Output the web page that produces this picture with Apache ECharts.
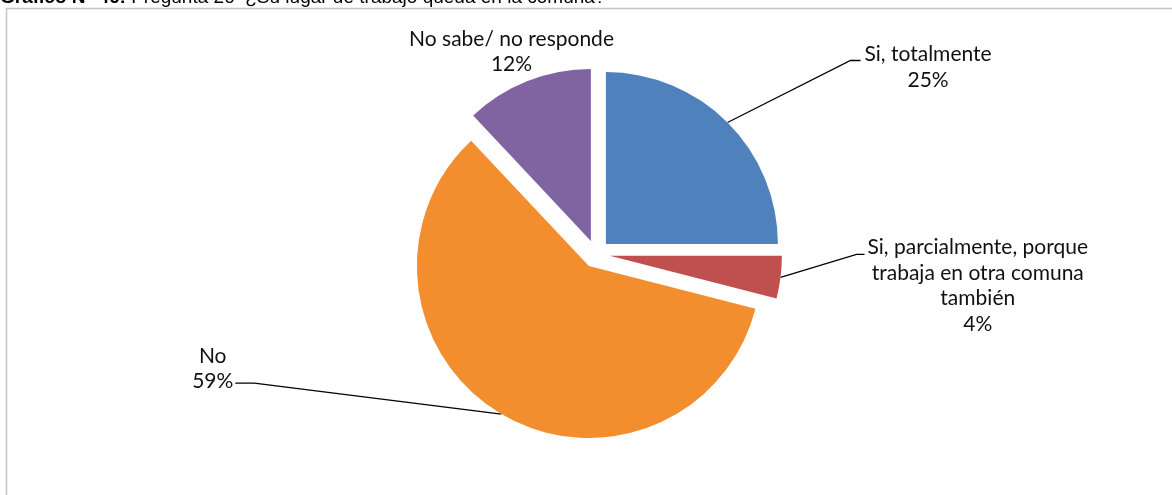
<!DOCTYPE html>
<html>
<head>
<meta charset="utf-8">
<script src="https://cdn.jsdelivr.net/npm/echarts@6/dist/echarts.min.js"></script>
<style>
html,body{margin:0;padding:0;background:#fff;}
#chart{width:1172px;height:495px;}
</style>
</head>
<body>
<div id="chart"></div>
<script>
// ---- data ----
var categories = [
  'Si, totalmente',
  'Si, parcialmente, porque\ntrabaja en otra comuna\ntambién',
  'No',
  'No sabe/ no responde'
];
var values = [25, 4, 59, 12];
var colors = ['#4F81BD', '#C0504D', '#F28E2E', '#8064A2'];
var titleBold = 'Gráfico N° 46:';
var titleRest = ' Pregunta 26  ¿Su lugar de trabajo queda en la comuna?';

var chart = echarts.init(document.getElementById('chart'), null, {renderer: 'canvas'});

var seriesData = categories.map(function (c, i) {
  var item = { name: c, value: values[i], selected: true, itemStyle: { color: colors[i] } };
  if (i === 3) item.labelLine = { show: false };
  return item;
});

function labelText(params) {
  var lines = params.name.split('\n');
  lines.push(Math.round(params.percent) + '%');
  return lines.map(function (s) { return '{c|' + s + '}'; }).join('\n');
}

function layoutLabel(params) {
  var i = params.dataIndex;
  var p0 = params.labelLinePoints ? params.labelLinePoints[0] : [0, 0];
  var r = params.labelRect;
  var w = r.width, h = r.height;
  var elbow, end, left, top, pts = null;
  if (i === 0) {
    elbow = [p0[0] + 123, p0[1] - 62];
    end = [elbow[0] + 10, elbow[1]];
    left = end[0] + 4; top = end[1] - 18.5;
    pts = [p0, elbow, end];
  } else if (i === 1) {
    elbow = [p0[0] + 76, p0[1] - 23];
    end = [elbow[0] + 8, elbow[1]];
    left = end[0] + 3; top = end[1] - 19.5;
    pts = [p0, elbow, end];
  } else if (i === 2) {
    elbow = [p0[0] - 247, p0[1] - 31];
    end = [elbow[0] - 19, elbow[1]];
    left = end[0] - 2 - w; top = end[1] + 11 - h;
    pts = [p0, elbow, end];
  } else {
    left = p0[0] - 16 - w / 2; top = p0[1] - 4 - h;
  }
  var res = { dx: left - r.x, dy: top - r.y };
  if (pts) res.labelLinePoints = pts;
  return res;
}

var labelFont = { fontFamily: 'Lato', fontSize: 21, lineHeight: 25.5, color: '#111', align: 'center' };

var option = {
  animation: false,
  graphic: [
    { type: 'rect', silent: true, shape: { x: 6.5, y: 8.5, width: 1300, height: 600 },
      style: { fill: 'none', stroke: '#C4C4C4', lineWidth: 1.5 } },
    { type: 'text', left: 0, top: -12, silent: true,
      style: { text: '{b|' + titleBold + '}{r|' + titleRest + '}',
        rich: {
          b: { fontFamily: 'Liberation Sans', fontSize: 19, fontWeight: 'bold', fill: '#000' },
          r: { fontFamily: 'Liberation Sans', fontSize: 19, fill: '#000' }
        } } }
  ],
  series: [{
    type: 'pie',
    center: [596, 254],
    radius: [0, 172],
    startAngle: 90,
    clockwise: true,
    selectedMode: 'multiple',
    selectedOffset: 14,
    avoidLabelOverlap: false,
    data: seriesData,
    label: {
      show: true,
      position: 'outside',
      formatter: labelText,
      fontFamily: 'Lato',
      fontSize: 21,
      lineHeight: 25.5,
      color: '#111',
      rich: { c: labelFont }
    },
    labelLine: {
      show: true,
      length: 20,
      length2: 10,
      lineStyle: { color: '#000', width: 1.3 }
    },
    labelLayout: layoutLabel,
    emphasis: { disabled: true },
    select: { disabled: false }
  }]
};
chart.setOption(option);
</script>
</body>
</html>
